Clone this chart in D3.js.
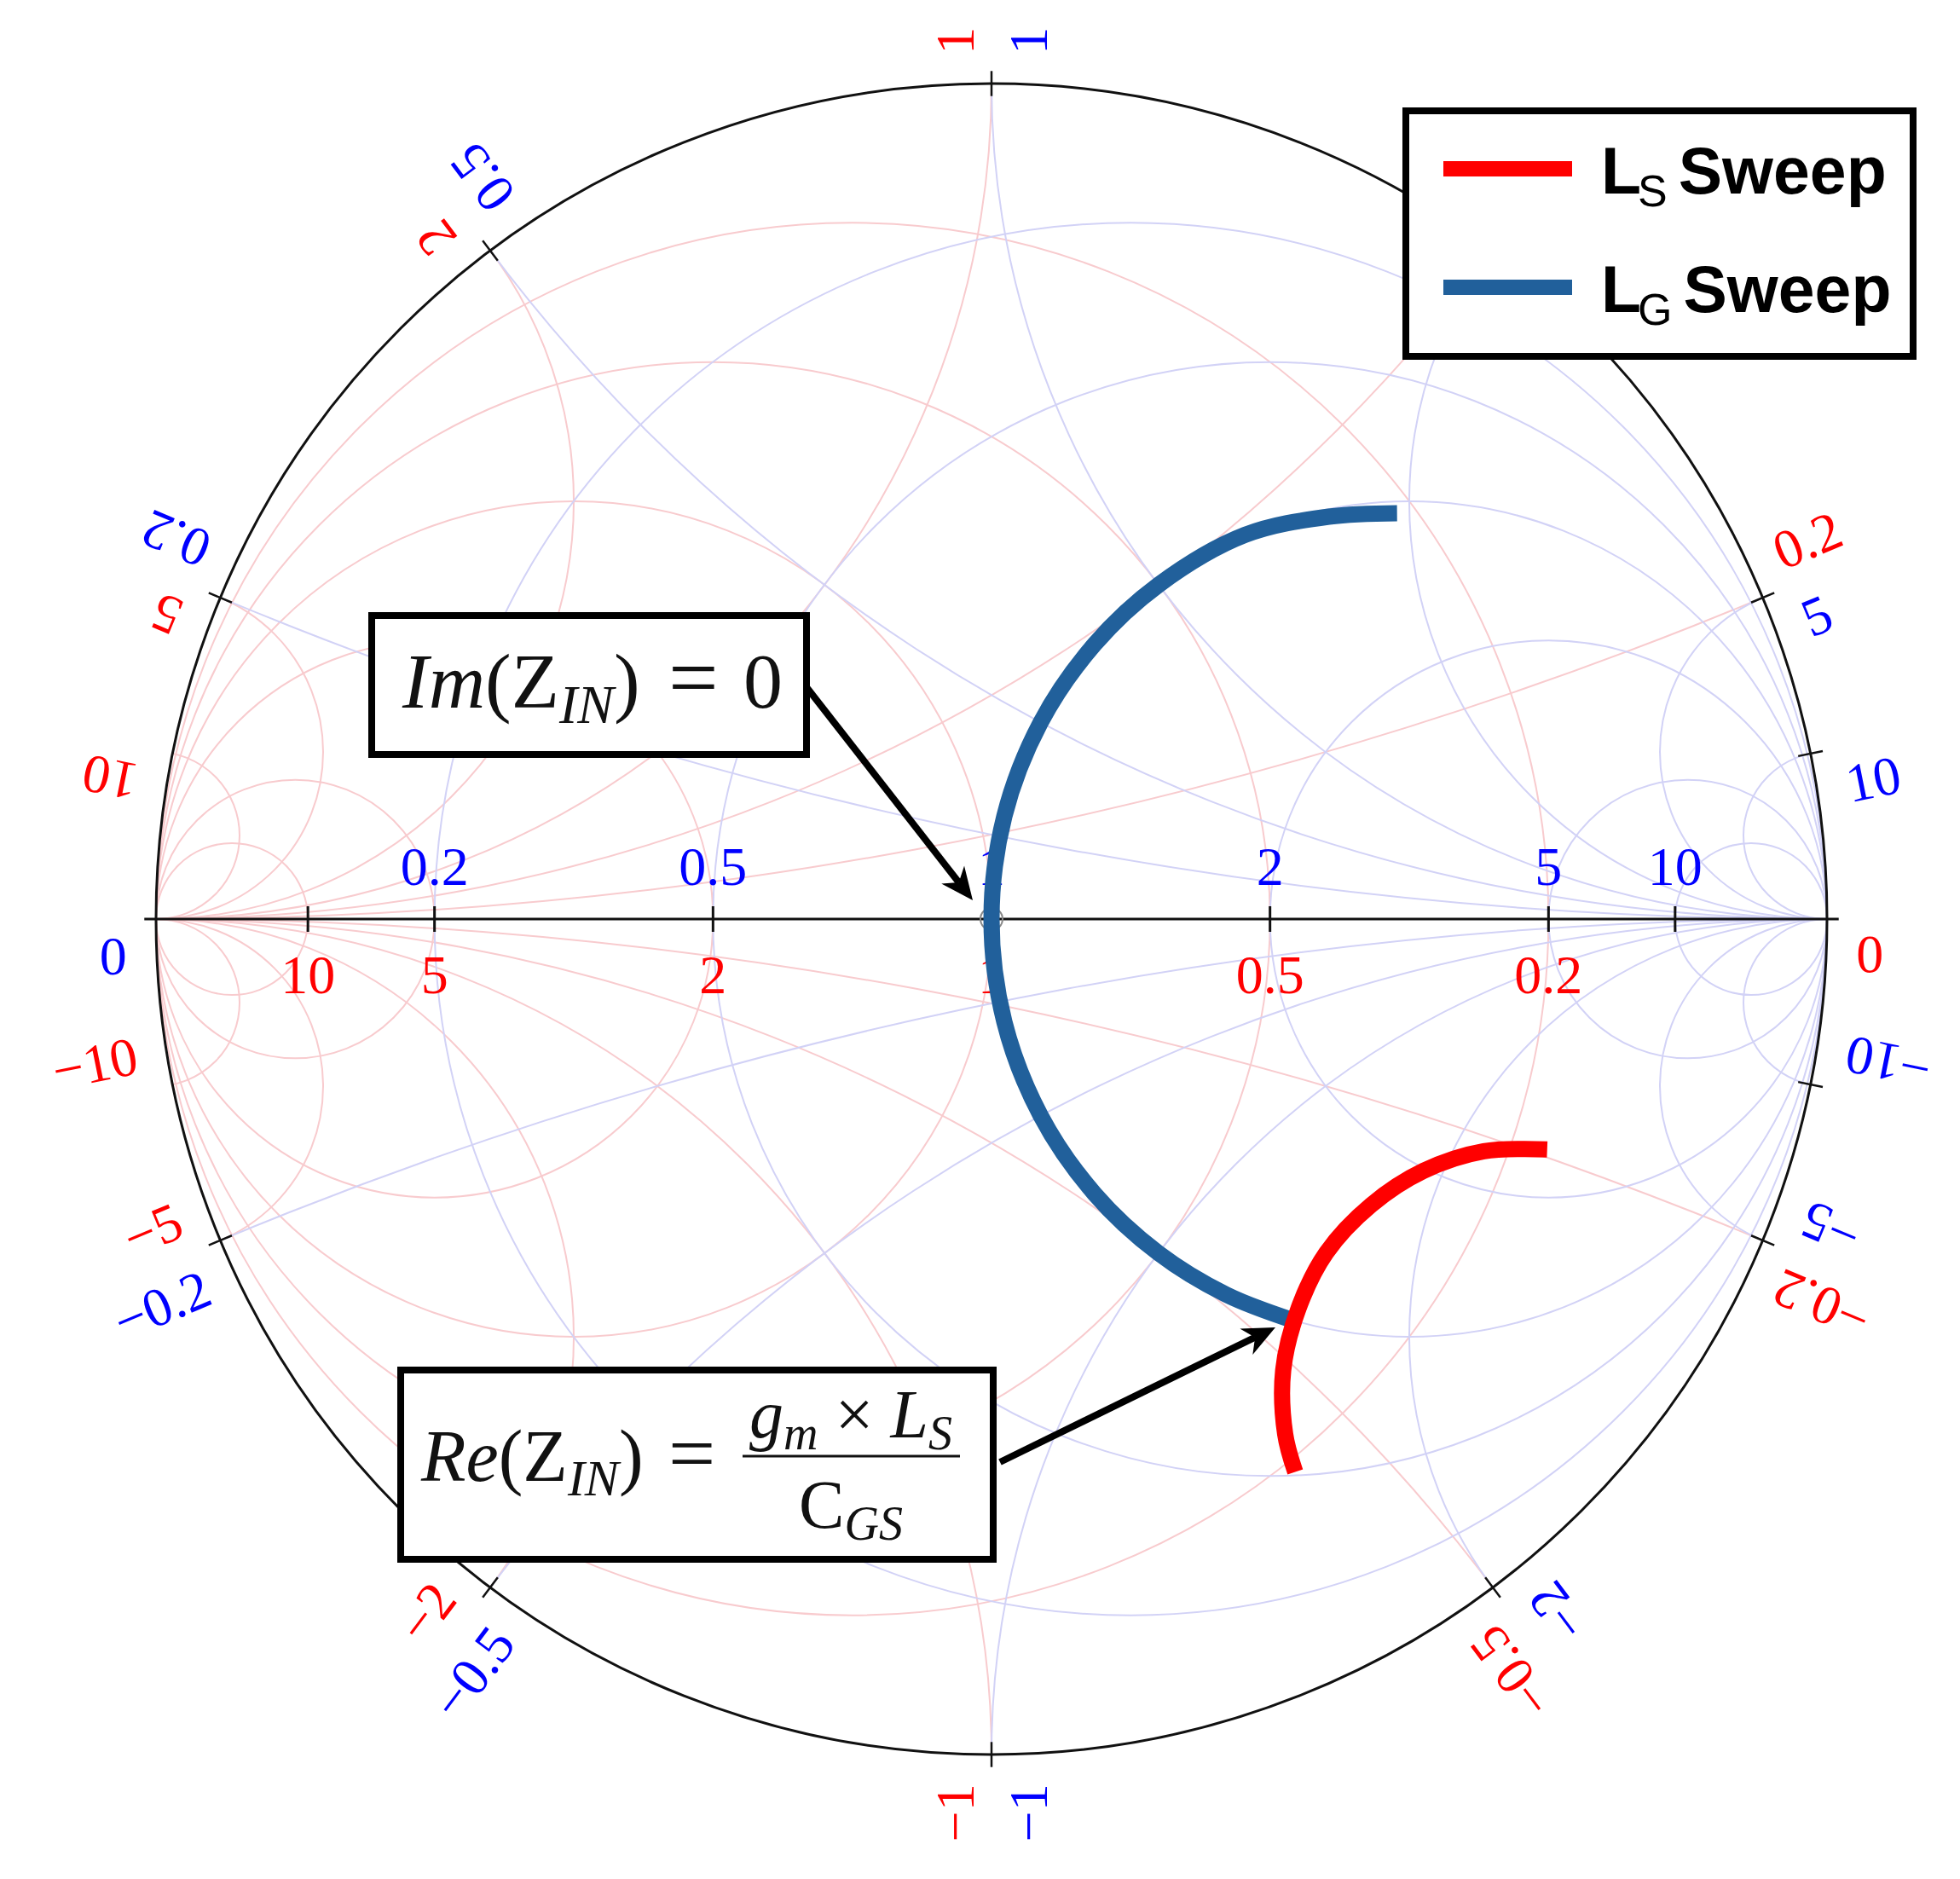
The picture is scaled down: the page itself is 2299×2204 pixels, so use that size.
<!DOCTYPE html>
<html>
<head>
<meta charset="utf-8">
<title>Smith chart - LS / LG sweep</title>
<script src="https://cdn.jsdelivr.net/npm/d3@7/dist/d3.min.js"></script>
<style>
  html, body { margin: 0; padding: 0; background: #fff; }
  svg { display: block; }
</style>
</head>
<body>
<div id="main"></div>
<script>
"use strict";

// grid values, used by the impedance grid (blue) and the mirrored admittance grid (red)
const gridValues = [0.2, 0.5, 1, 2, 5, 10];
const axisLabels = ["0.2", "0.5", "1", "2", "5", "10"];
// values written round the outer circle
const rimValues = [0, 0.2, 0.5, 1, 2, 5, 10, -0.2, -0.5, -1, -2, -5, -10];

// L_G sweep, normalised impedance r + jx
const lgSweepR = [1.055, 1.03, 1.0, 1, 1, 1, 1, 1, 1, 1, 1, 1, 1, 1];
const lgSweepX = [1.94, 1.64, 1.32, 1.0, 0.75, 0.5, 0.25, 0, -0.25, -0.5, -0.75, -1.0, -1.25, -1.5];

// L_S sweep
const lsSweepR = [2.56, 2.34, 1.98, 1.63, 1.31, 1.05, 0.82, 0.62, 0.51];
const lsSweepX = [-2.93, -2.26, -1.86, -1.65, -1.54, -1.51, -1.51, -1.54, -1.57];

// legend
const legendSubs = ["S", "G"];
const legendText = "Sweep";

const W = 2299, H = 2204;
const cx = 1163, cy = 1078, R = 980;
const colLS = "#ff0000", colLG = "#21609b";
const gridRed = "#f8cbce", gridBlue = "#d2d2f6";

const gx = d3.scaleLinear().domain([-1, 1]).range([cx - R, cx + R]);
const gy = d3.scaleLinear().domain([-1, 1]).range([cy + R, cy - R]);

// z -> reflection coefficient (z-1)/(z+1)
function zToGamma(r, x) {
    const nr = r - 1, dr = r + 1;
    const d = dr * dr + x * x;
    return [(nr * dr + x * x) / d, (x * dr - nr * x) / d];
}

const svg = d3.select("#main").append("svg")
    .attr("width", W).attr("height", H)
    .style("font-family", "'Liberation Serif', 'DejaVu Serif', serif");

svg.append("rect").attr("width", W).attr("height", H).attr("fill", "#fff");

svg.append("clipPath").attr("id", "unit")
    .append("circle").attr("cx", gx(0)).attr("cy", gy(0)).attr("r", gx(1) - gx(0));

// circles of the grid in the gamma plane; mirror = admittance grid
function gridCircles(mirror) {
    const s = mirror ? -1 : 1;
    const res = gridValues.map(v => ({ c: [s * v / (1 + v), 0], rad: 1 / (1 + v) }));
    const reac = gridValues.flatMap(v => [1, -1].map(k => ({ c: [s, k / v], rad: 1 / v })));
    return res.concat(reac);
}

const grid = svg.append("g").attr("clip-path", "url(#unit)").attr("fill", "none").attr("stroke-width", 2);
[[true, gridRed], [false, gridBlue]].forEach(([mirror, col]) => {
    grid.append("g").attr("stroke", col)
        .selectAll("circle")
        .data(gridCircles(mirror))
        .join("circle")
        .attr("cx", d => gx(d.c[0]))
        .attr("cy", d => gy(d.c[1]))
        .attr("r", d => gx(d.rad) - gx(0));
});

// real axis + outer circle
svg.append("line")
    .attr("x1", gx(-1.014)).attr("x2", gx(1.014))
    .attr("y1", gy(0)).attr("y2", gy(0))
    .attr("stroke", "#111").attr("stroke-width", 3);
svg.append("circle")
    .attr("cx", gx(0)).attr("cy", gy(0)).attr("r", gx(1) - gx(0))
    .attr("fill", "none").attr("stroke", "#111").attr("stroke-width", 3);

// ticks on the real axis
const axisPos = gridValues.map(v => zToGamma(v, 0)[0]);
const axisTicks = Array.from(new Set(axisPos.concat(axisPos.map(p => -p)).map(p => +p.toFixed(6))));
svg.append("g").selectAll("line")
    .data(axisTicks)
    .join("line")
    .attr("x1", d => gx(d)).attr("x2", d => gx(d))
    .attr("y1", gy(0) - 15).attr("y2", gy(0) + 15)
    .attr("stroke", "#111").attr("stroke-width", 3);

// labels on the real axis: impedance above, admittance below
const axisG = svg.append("g").attr("font-size", 64).attr("text-anchor", "middle");
axisG.selectAll("text.imp")
    .data(gridValues)
    .join("text").attr("class", "imp")
    .attr("x", v => gx(zToGamma(v, 0)[0]))
    .attr("y", gy(0) - 40)
    .attr("fill", "blue")
    .text((v, i) => axisLabels[i]);
axisG.selectAll("text.adm")
    .data(gridValues)
    .join("text").attr("class", "adm")
    .attr("x", v => gx(-zToGamma(v, 0)[0]))
    .attr("y", gy(0) + 87)
    .attr("fill", "red")
    .text((v, i) => axisLabels[i]);

// labels round the rim
function rimInfo(x, mirror) {
    const g = zToGamma(0, x);
    const re = mirror ? -g[0] : g[0];
    let t = Math.atan2(g[1], re) * 180 / Math.PI;
    if (t > 179.999) t = -180;
    return { t, upper: t > 0.001 };
}
const fmt = v => (v < 0 ? "\u2212" : "") + Math.abs(v);

// rim ticks
svg.append("g").selectAll("line")
    .data(rimValues.filter(v => v !== 0))
    .join("line")
    .each(function (v) {
        const a = rimInfo(v, false).t * Math.PI / 180;
        d3.select(this)
            .attr("x1", gx((1 - 0.015) * Math.cos(a))).attr("y1", gy((1 - 0.015) * Math.sin(a)))
            .attr("x2", gx((1 + 0.015) * Math.cos(a))).attr("y2", gy((1 + 0.015) * Math.sin(a)));
    })
    .attr("stroke", "#111").attr("stroke-width", 2.5);

const rimG = svg.append("g").attr("font-size", 64);
[[false, "blue", 43], [true, "red", -43]].forEach(([mirror, col, off]) => {
    rimG.append("g").selectAll("g")
        .data(rimValues)
        .join("g")
        .attr("transform", v => {
            const info = rimInfo(v, mirror);
            const a = info.t * Math.PI / 180;
            const rot = info.upper ? -info.t : -180 - info.t;
            return `translate(${gx(1.035 * Math.cos(a))},${gy(1.035 * Math.sin(a))}) rotate(${rot})`;
        })
        .append("text")
        .attr("y", off)
        .attr("dy", "0.35em")
        .attr("text-anchor", v => rimInfo(v, mirror).upper ? "start" : "end")
        .attr("fill", col)
        .text(fmt);
});

// matched point marker
svg.append("circle")
    .attr("cx", gx(0)).attr("cy", gy(0)).attr("r", 13)
    .attr("fill", "none").attr("stroke", "#888").attr("stroke-width", 2);

// sweeps
const line = d3.line()
    .x(d => gx(d[0])).y(d => gy(d[1]))
    .curve(d3.curveCatmullRom.alpha(0.5));
const lgPts = lgSweepR.map((r, i) => zToGamma(r, lgSweepX[i]));
const lsPts = lsSweepR.map((r, i) => zToGamma(r, lsSweepX[i]));
svg.append("path").attr("d", line(lgPts))
    .attr("fill", "none").attr("stroke", colLG).attr("stroke-width", 19);
svg.append("path").attr("d", line(lsPts))
    .attr("fill", "none").attr("stroke", colLS).attr("stroke-width", 19);

// arrows
function arrow(x1, y1, x2, y2) {
    const a = Math.atan2(y2 - y1, x2 - x1);
    const L = 38, Wd = 17;
    const bx = x2 - L * 0.7 * Math.cos(a), by = y2 - L * 0.7 * Math.sin(a);
    svg.append("line")
        .attr("x1", x1).attr("y1", y1).attr("x2", bx).attr("y2", by)
        .attr("stroke", "#000").attr("stroke-width", 8);
    const px = -Math.sin(a), py = Math.cos(a);
    const ex = x2 - L * Math.cos(a), ey = y2 - L * Math.sin(a);
    const pts = [
        [x2, y2],
        [ex + Wd * px, ey + Wd * py],
        [bx, by],
        [ex - Wd * px, ey - Wd * py]
    ];
    svg.append("path").attr("d", "M" + pts.map(p => p.join(",")).join("L") + "Z").attr("fill", "#000");
}
arrow(946, 806, 1141, 1056);
arrow(1173, 1715, 1496, 1557);

// annotation boxes
svg.append("rect").attr("x", 436).attr("y", 722).attr("width", 510).attr("height", 163)
    .attr("fill", "#fff").attr("stroke", "#000").attr("stroke-width", 8);
const t1 = svg.append("text").attr("y", 830).attr("font-size", 92).attr("fill", "#111");
t1.append("tspan").attr("x", 472).attr("font-style", "italic").text("Im");
t1.append("tspan").text("(Z");
t1.append("tspan").attr("font-style", "italic").attr("font-size", 64).attr("dy", 18).text("IN");
t1.append("tspan").attr("dy", -18).text(")");
t1.append("tspan").attr("x", 784).attr("font-size", 104).text("=");
t1.append("tspan").attr("x", 872).text("0");

svg.append("rect").attr("x", 470).attr("y", 1607).attr("width", 695).attr("height", 222)
    .attr("fill", "#fff").attr("stroke", "#000").attr("stroke-width", 8);
const t2 = svg.append("text").attr("y", 1737).attr("font-size", 86).attr("fill", "#111");
t2.append("tspan").attr("x", 494).attr("font-style", "italic").text("Re");
t2.append("tspan").text("(Z");
t2.append("tspan").attr("font-style", "italic").attr("font-size", 60).attr("dy", 17).text("IN");
t2.append("tspan").attr("dy", -17).text(")");
t2.append("tspan").attr("x", 784).attr("font-size", 98).text("=");

const num = svg.append("text").attr("x", 998).attr("y", 1686).attr("font-size", 80)
    .attr("text-anchor", "middle").attr("fill", "#111");
num.append("tspan").attr("font-style", "italic").text("g");
num.append("tspan").attr("font-style", "italic").attr("font-size", 56).attr("dy", 14).text("m");
num.append("tspan").attr("dy", -14).text(" \u00d7 ");
num.append("tspan").attr("font-style", "italic").text("L");
num.append("tspan").attr("font-style", "italic").attr("font-size", 56).attr("dy", 14).text("S");
svg.append("line").attr("x1", 871).attr("x2", 1126).attr("y1", 1708).attr("y2", 1708)
    .attr("stroke", "#111").attr("stroke-width", 3);
const den = svg.append("text").attr("x", 998).attr("y", 1792).attr("font-size", 80)
    .attr("text-anchor", "middle").attr("fill", "#111");
den.append("tspan").text("C");
den.append("tspan").attr("font-style", "italic").attr("font-size", 56).attr("dy", 14).text("GS");

// legend
const leg = svg.append("g");
leg.append("rect").attr("x", 1649).attr("y", 130).attr("width", 595).attr("height", 288)
    .attr("fill", "#fff").attr("stroke", "#000").attr("stroke-width", 8);
const legRows = leg.selectAll("g.row")
    .data(legendSubs)
    .join("g").attr("class", "row")
    .attr("transform", (d, i) => `translate(0,${i * 139})`);
legRows.append("line")
    .attr("x1", 1693).attr("x2", 1844).attr("y1", 198).attr("y2", 198)
    .attr("stroke", (d, i) => i === 0 ? colLS : colLG).attr("stroke-width", 18);
const lt = legRows.append("text")
    .attr("x", 1878).attr("y", 227)
    .style("font-family", "'Liberation Sans', Arial, sans-serif")
    .attr("font-size", 77).attr("font-weight", "bold").attr("fill", "#000");
lt.append("tspan").text("L");
lt.append("tspan").attr("font-weight", "normal").attr("font-size", 52).attr("dx", -4).attr("dy", 15).text(d => d);
lt.append("tspan").attr("dy", -15).attr("dx", 13).text(legendText);
</script>
</body>
</html>
